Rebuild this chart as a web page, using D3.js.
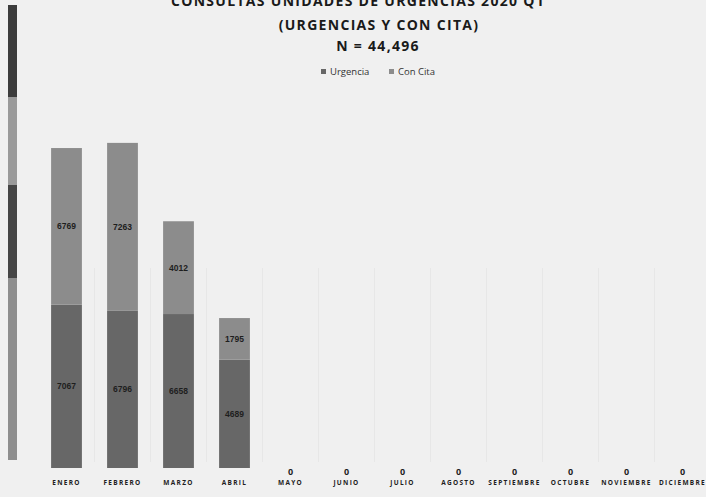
<!DOCTYPE html>
<html>
<head>
<meta charset="utf-8">
<script src="https://cdn.jsdelivr.net/npm/d3@7"></script>
<style>
  html, body { margin: 0; padding: 0; background: #f0f0f0; }
  svg { display: block; }
</style>
</head>
<body>
<svg id="chart" width="706" height="497"></svg>
<script>
const categories = ["ENERO", "FEBRERO", "MARZO", "ABRIL", "MAYO", "JUNIO", "JULIO", "AGOSTO", "SEPTIEMBRE", "OCTUBRE", "NOVIEMBRE", "DICIEMBRE"];
const urgencia = [7067, 6796, 6658, 4689, 0, 0, 0, 0, 0, 0, 0, 0];
const conCita  = [6769, 7263, 4012, 1795, 0, 0, 0, 0, 0, 0, 0, 0];
const seriesNames = ["Urgencia", "Con Cita"];
const titleLines = ["CONSULTAS UNIDADES DE URGENCIAS 2020 Q1", "(URGENCIAS Y CON CITA)", "N = 44,496"];

const colors = { "Urgencia": "#676767", "Con Cita": "#8c8c8c" };

const svg = d3.select("#chart");

// scan artifact strip on the left edge
const strip = svg.append("g");
[[5, 97, "#3c3c3c"], [97, 185, "#9a9a9a"], [185, 278, "#464646"], [278, 460, "#8e8e8e"]].forEach(s => {
  strip.append("rect").attr("x", 8).attr("y", s[0]).attr("width", 9).attr("height", s[1] - s[0]).attr("fill", s[2]);
});

const x = d3.scaleBand().domain(categories).range([38.5, 710.5]).paddingInner(0.45).paddingOuter(0.225);
const y = d3.scaleLinear().domain([0, 16000]).range([468, 98]);

// faint vertical separators
const step = x.step();
const bounds = d3.range(1, categories.length).map(i => x(categories[i]) - x.paddingInner() * step / 2);
svg.append("g").selectAll("line").data(bounds).join("line")
  .attr("x1", d => d).attr("x2", d => d)
  .attr("y1", 268).attr("y2", 462)
  .attr("stroke", "#e7e7e7").attr("stroke-width", 1);

const data = categories.map((c, i) => ({ cat: c, Urgencia: urgencia[i], "Con Cita": conCita[i] }));
const stacked = d3.stack().keys(seriesNames)(data);

const g = svg.append("g");
stacked.forEach(layer => {
  g.append("g").selectAll("rect").data(layer.filter(d => d[1] - d[0] > 0)).join("rect")
    .attr("x", d => x(d.data.cat))
    .attr("width", x.bandwidth())
    .attr("y", d => y(d[1]))
    .attr("height", d => y(d[0]) - y(d[1]))
    .attr("fill", colors[layer.key]);
  g.append("g").selectAll("text").data(layer.filter(d => d[1] - d[0] > 0)).join("text")
    .attr("x", d => x(d.data.cat) + x.bandwidth() / 2)
    .attr("y", d => (y(d[0]) + y(d[1])) / 2 + 3)
    .attr("text-anchor", "middle")
    .attr("font-family", "'Liberation Sans Narrow', 'Liberation Sans', Arial, sans-serif")
    .attr("font-weight", "bold")
    .attr("font-size", 8.5)
    .attr("fill", "#1e1e1e")
    .text(d => d[1] - d[0]);
});

// zero labels
g.append("g").selectAll("text").data(data.filter(d => d.Urgencia + d["Con Cita"] === 0)).join("text")
  .attr("x", d => x(d.cat) + x.bandwidth() / 2)
  .attr("y", 475)
  .attr("text-anchor", "middle")
  .attr("font-family", "'Open Sans', sans-serif")
  .attr("font-weight", "bold")
  .attr("font-size", 9)
  .attr("fill", "#1e1e1e")
  .text("0");

// x axis labels
const xAxis = d3.axisBottom(x).tickSize(0).tickPadding(0);
const ax = svg.append("g").attr("transform", "translate(0,485)").call(xAxis);
ax.select(".domain").remove();
ax.selectAll("text")
  .attr("dy", "0")
  .attr("font-family", "'Open Sans', sans-serif")
  .attr("font-weight", "bold")
  .attr("font-size", 6.5)
  .attr("letter-spacing", "1.3px")
  .attr("fill", "#1e1e1e");

// title
const tpos = [[358, 6], [379, 30], [378, 51]];
svg.append("g").selectAll("text").data(titleLines).join("text")
  .attr("x", (d, i) => tpos[i][0])
  .attr("y", (d, i) => tpos[i][1])
  .attr("text-anchor", "middle")
  .attr("font-family", "'Open Sans', sans-serif")
  .attr("font-weight", "bold")
  .attr("font-size", 14)
  .attr("letter-spacing", "1.3px")
  .attr("fill", "#1a1a1a")
  .text(d => d);

// legend
const lg = svg.append("g").attr("transform", "translate(321,75)");
const lx = [0, 68];
seriesNames.forEach((s, i) => {
  lg.append("rect").attr("x", lx[i]).attr("y", -6).attr("width", 5).attr("height", 5).attr("fill", colors[s]);
  lg.append("text").attr("x", lx[i] + 9).attr("y", 0)
    .attr("font-family", "'Open Sans', sans-serif")
    .attr("font-size", 9.5)
    .attr("fill", "#333")
    .text(s);
});
</script>
</body>
</html>
